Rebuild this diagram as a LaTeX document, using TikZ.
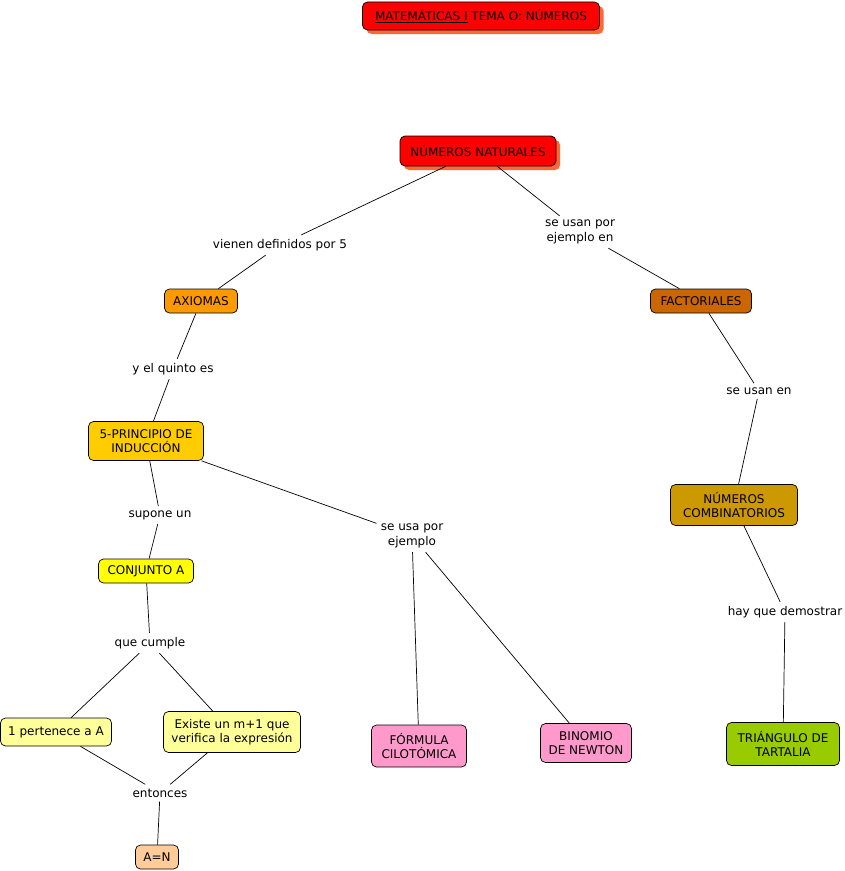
\documentclass[tikz,border=0pt]{standalone}
\usepackage{fontspec}
\setmainfont{DejaVu Sans}
\usetikzlibrary{shadows}
\definecolor{rojo}{HTML}{FF0000}
\definecolor{sombra}{HTML}{FF6633}
\definecolor{naranja}{HTML}{FF9900}
\definecolor{marron}{HTML}{CC6600}
\definecolor{oro}{HTML}{FFCC00}
\definecolor{ocre}{HTML}{CC9900}
\definecolor{amarillo}{HTML}{FFFF00}
\definecolor{crema}{HTML}{FFFF99}
\definecolor{rosa}{HTML}{FF99CC}
\definecolor{verde}{HTML}{99CC00}
\definecolor{salmon}{HTML}{FFCC99}
\tikzset{
  concepto/.style={draw=black,line width=0.7bp,rounded corners=5bp,inner xsep=5bp,inner ysep=3bp,align=center},
  sombreado/.style={drop shadow={shadow xshift=4bp,shadow yshift=-4bp,fill=sombra,opacity=1}},
  enlace/.style={inner sep=4bp,align=center,fill=white}
}
\begin{document}
\begin{tikzpicture}[x=1bp,y=-1bp,font=\fontsize{12bp}{14.5bp}\selectfont,line width=0.7bp]
\useasboundingbox (0,0) rectangle (845,871);

\node[concepto,sombreado,fill=rojo,minimum height=28bp,minimum width=237bp] (titulo) at (481,16) {\underline{MATEMÁTICAS I} TEMA O: NÚMEROS};
\node[concepto,sombreado,fill=rojo,minimum height=30bp,minimum width=156bp] (nn) at (478,151) {NÚMEROS NATURALES};

\node[concepto,fill=naranja,minimum height=24bp,minimum width=73bp] (ax) at (201,301) {AXIOMAS};
\node[concepto,fill=marron,minimum height=24bp,minimum width=101bp] (fa) at (701,301) {FACTORIALES};
\node[concepto,fill=oro,minimum height=39bp,minimum width=115bp] (pi) at (146,441) {5-PRINCIPIO DE\\INDUCCIÓN};
\node[concepto,fill=ocre,minimum height=41bp,minimum width=127bp] (nc) at (734,505) {NÚMEROS\\COMBINATORIOS};
\node[concepto,fill=amarillo,minimum height=24bp,minimum width=95bp] (ca) at (146,571) {CONJUNTO A};
\node[concepto,fill=crema,minimum height=28bp,minimum width=111bp] (p1) at (56,732) {1 pertenece a A};
\node[concepto,fill=crema,minimum height=41bp,minimum width=137bp] (ex) at (232,732) {Existe un m+1 que\\verifica la expresión};
\node[concepto,fill=rosa,minimum height=42bp,minimum width=95bp] (fc) at (419,746) {FÓRMULA\\CILOTÓMICA};
\node[concepto,fill=rosa,minimum height=39bp,minimum width=91bp] (bn) at (586,743) {BINOMIO\\DE NEWTON};
\node[concepto,fill=verde,minimum height=43bp,minimum width=113bp] (tt) at (783,744) {TRIÁNGULO DE\\TARTALIA};
\node[concepto,fill=salmon,minimum height=24bp,minimum width=43bp] (an) at (157,857) {A=N};

% enlaces
\node[enlace] (l1) at (280,245) {vienen definidos por 5};
\node[enlace] (l2) at (580,232) {se usan por\\ejemplo en};
\node[enlace] (l3) at (173,369) {y el quinto es};
\node[enlace] (l4) at (759,391) {se usan en};
\node[enlace] (l5) at (160,515) {supone un};
\node[enlace] (l6) at (412,536) {se usa por\\ejemplo};
\node[enlace] (l7) at (150,643) {que cumple};
\node[enlace] (l8) at (785,612) {hay que demostrar};
\node[enlace] (l9) at (160,793) {entonces};

\path (nn) edge (l1) (l1) edge (ax)
      (nn) edge (l2) (l2) edge (fa)
      (ax) edge (l3) (l3) edge (pi)
      (fa) edge (l4) (l4) edge (nc)
      (pi) edge (l5) (l5) edge (ca)
      (pi) edge (l6) (l6) edge (fc) (l6) edge (bn)
      (ca) edge (l7) (l7) edge (p1) (l7) edge (ex)
      (nc) edge (l8) (l8) edge (tt)
      (p1) edge (l9) (ex) edge (l9) (l9) edge (an);

\end{tikzpicture}
\end{document}
